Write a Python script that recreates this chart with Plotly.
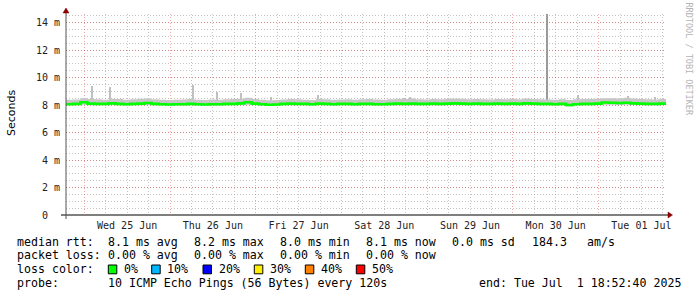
import plotly.graph_objects as go
import pandas as pd

# ---------------- data ----------------
start_time = "2025-06-24 18:52:40"
end_time = "2025-07-01 18:52:40"

# median rtt (ms), sampled every 2 hours from start to end
median_ms = [
    8.06, 8.08, 8.20, 8.10, 8.08, 8.08, 8.12, 8.08, 8.06, 8.08,
    8.10, 8.14, 8.08, 8.06, 8.04, 8.06, 8.06, 8.08, 8.06, 8.04,
    8.06, 8.06, 8.08, 8.08, 8.12, 8.20, 8.10, 8.06, 8.02, 8.04,
    8.08, 8.10, 8.08, 8.08, 8.06, 8.10, 8.08, 8.06, 8.08, 8.08,
    8.06, 8.08, 8.08, 8.06, 8.06, 8.08, 8.10, 8.08, 8.10, 8.08,
    8.08, 8.10, 8.08, 8.10, 8.12, 8.10, 8.08, 8.10, 8.08, 8.08,
    8.10, 8.08, 8.10, 8.08, 8.12, 8.10, 8.08, 8.08, 8.06, 8.08,
    8.00, 8.06, 8.08, 8.08, 8.10, 8.18, 8.16, 8.14, 8.16, 8.12,
    8.10, 8.08, 8.08, 8.10, 8.10,
]
# upper edge of the ping "smoke" (ms)
smoke_max_ms = [
    8.38, 8.40, 8.50, 8.43, 8.41, 8.38, 8.46, 8.43, 8.38, 8.42,
    8.46, 8.48, 8.41, 8.38, 8.36, 8.38, 8.40, 8.43, 8.38, 8.36,
    8.40, 8.38, 8.41, 8.43, 8.46, 8.53, 8.44, 8.38, 8.34, 8.36,
    8.40, 8.44, 8.41, 8.38, 8.36, 8.46, 8.42, 8.38, 8.40, 8.42,
    8.38, 8.41, 8.44, 8.40, 8.38, 8.42, 8.46, 8.43, 8.48, 8.42,
    8.40, 8.44, 8.41, 8.46, 8.48, 8.45, 8.41, 8.44, 8.41, 8.40,
    8.44, 8.41, 8.46, 8.42, 8.48, 8.44, 8.41, 8.40, 8.38, 8.41,
    8.36, 8.42, 8.44, 8.43, 8.46, 8.50, 8.50, 8.48, 8.53, 8.48,
    8.44, 8.41, 8.40, 8.43, 8.43,
]
# lower edge of the smoke (ms)
smoke_min_ms = [
    7.98, 7.99, 8.02, 7.99, 7.98, 7.98, 8.00, 7.98, 7.97, 7.98,
    7.99, 8.00, 7.98, 7.97, 7.96, 7.97, 7.97, 7.98, 7.97, 7.96,
    7.97, 7.97, 7.98, 7.98, 8.00, 8.02, 7.99, 7.97, 7.94, 7.96,
    7.98, 7.99, 7.98, 7.98, 7.97, 7.99, 7.98, 7.97, 7.98, 7.98,
    7.97, 7.98, 7.98, 7.97, 7.97, 7.98, 7.99, 7.98, 7.99, 7.98,
    7.98, 7.99, 7.98, 7.99, 8.00, 7.99, 7.98, 7.99, 7.98, 7.98,
    7.99, 7.98, 7.99, 7.98, 8.00, 7.99, 7.98, 7.98, 7.97, 7.98,
    7.90, 7.97, 7.98, 7.98, 7.99, 8.02, 8.01, 8.00, 8.01, 8.00,
    7.99, 7.98, 7.98, 7.99, 7.99,
]

# isolated outlier pings (ms)
spike_times = [
    "2025-06-25 02:14", "2025-06-25 07:07", "2025-06-26 06:28", "2025-06-26 13:16",
    "2025-06-26 19:46", "2025-06-27 04:16", "2025-06-27 17:22", "2025-06-28 17:28",
    "2025-06-28 19:10", "2025-06-30 09:28", "2025-06-30 18:16", "2025-07-01 08:16",
    "2025-07-01 15:42",
]
spike_ms = [9.38, 9.31, 9.45, 8.92, 8.87, 8.58, 8.73, 8.49, 8.58, 14.6, 8.70, 8.63, 8.58]
spike_base_ms = [8.1] * len(spike_ms)

ytick_vals = [0, 2, 4, 6, 8, 10, 12, 14]
ytick_text = ["0\u00a0\u00a0", "2 m", "4 m", "6 m", "8 m", "10 m", "12 m", "14 m"]

rtt_items = ["8.1 ms avg", "8.2 ms max", "8.0 ms min", "8.1 ms now", "0.0 ms sd", "184.3", "am/s"]
loss_items = ["0.00 % avg", "0.00 % max", "0.00 % min", "0.00 % now"]
loss_labels = ["0%", "10%", "20%", "30%", "40%", "50%"]
loss_colors = ["#00ff00", "#00b8ff", "#0000ff", "#ffee00", "#ff8000", "#ff0000"]
probe_text = "10 ICMP Echo Pings (56 Bytes) every 120s"
end_text = "end: Tue Jul  1 18:52:40 2025"

# ---------------- layout geometry (pixels) ----------------
W, H = 697, 297
PL, PR, PT, PB = 66, 666, 14, 215


def px(p):
    return (p - PL) / (PR - PL)


def py(p):
    return (PB - p) / (PB - PT)


times = pd.date_range(start_time, periods=len(median_ms), freq="2h")

MONO = "DejaVu Sans Mono"
fig = go.Figure()

fig.add_trace(go.Scatter(x=times, y=smoke_min_ms, mode="lines", line=dict(width=0, shape="hv"),
                         hoverinfo="skip", showlegend=False))
fig.add_trace(go.Scatter(x=times, y=smoke_max_ms, mode="lines", line=dict(width=0, shape="hv"),
                         fill="tonexty", fillcolor="#c6c6c6", hoverinfo="skip", showlegend=False))
fig.add_trace(go.Bar(x=pd.to_datetime(spike_times),
                     y=[v - b for v, b in zip(spike_ms, spike_base_ms)],
                     base=spike_base_ms, width=1100000,
                     marker=dict(color=["#9a9a9a" if v > 12 else "#c0c0c0" for v in spike_ms], line=dict(width=0)),
                     showlegend=False, hoverinfo="skip"))
fig.add_trace(go.Scatter(x=times, y=median_ms, mode="lines", line=dict(color="#00ff00", width=2.6, shape="hv"),
                         showlegend=False))

major_grid = "rgba(220,60,60,0.45)"
minor_grid = "rgba(150,150,150,0.55)"
dots = "1px,2px"

fig.update_layout(
    width=W, height=H,
    margin=dict(l=PL, r=W - PR, t=PT, b=H - PB, pad=0),
    paper_bgcolor="white", plot_bgcolor="white",
    showlegend=False, bargap=0,
    xaxis=dict(type="date", range=[start_time, end_time], tick0="2025-06-25", dtick=86400000,
               tickformat="%a %d %b", ticklabelmode="period", showgrid=True, gridcolor=major_grid,
               griddash=dots, gridwidth=1, zeroline=False, showline=False, ticks="",
               ticklabelstandoff=3,
               tickfont=dict(family=MONO, size=10, color="#222"),
               minor=dict(dtick=21600000, showgrid=True, gridcolor=minor_grid, griddash=dots, gridwidth=1)),
    yaxis=dict(range=[0, (PB - PT) / 13.75], tickvals=ytick_vals, ticktext=ytick_text, showgrid=True,
               gridcolor=major_grid, griddash=dots, gridwidth=1, zeroline=False, showline=False, ticks="",
               ticklabelstandoff=5,
               tickfont=dict(family=MONO, size=10, color="#222"),
               minor=dict(dtick=0.5, showgrid=True, gridcolor=minor_grid, griddash=dots, gridwidth=1)),
)

shapes = []
# axis lines + arrows
shapes.append(dict(type="line", xref="paper", yref="paper", x0=px(61), x1=px(669), y0=0, y1=0,
                   line=dict(color="#000", width=1)))
shapes.append(dict(type="path", xref="paper", yref="paper",
                   path=f"M {px(668)},{py(212)} L {px(672.5)},{py(215)} L {px(668)},{py(218)} Z",
                   fillcolor="#8b0000", line=dict(color="#8b0000", width=0.5)))
shapes.append(dict(type="line", xref="paper", yref="paper", x0=0, x1=0, y0=py(219), y1=py(12),
                   line=dict(color="#555", width=1)))
shapes.append(dict(type="path", xref="paper", yref="paper",
                   path=f"M {px(63)},{py(13)} L {px(66)},{py(8)} L {px(69)},{py(13)} Z",
                   fillcolor="#8b0000", line=dict(color="#8b0000", width=0.5)))

annotations = []


def txt(x, y, s, size=11.6, color="#000", family=MONO, **kw):
    d = dict(xref="paper", yref="paper", x=px(x), y=py(y), text=s, showarrow=False,
             xanchor="left", yanchor="middle", font=dict(family=family, size=size, color=color),
             borderpad=0)
    d.update(kw)
    annotations.append(d)


row_y = [241.5, 255.3, 269.3, 283.3]
col_x = [107.3, 193.3, 279.0, 365.0, 451.0, 530.7, 586.0]
txt(16, row_y[0], "median rtt:")
for s, x in zip(rtt_items, col_x):
    txt(x, row_y[0], s)
txt(16, row_y[1], "packet loss:")
for s, x in zip(loss_items, col_x):
    txt(x, row_y[1], s)
txt(16, row_y[2], "loss color:")
box_x = [108.3, 151.7, 203.0, 254.3, 305.3, 356.3]
for lab, col, bx in zip(loss_labels, loss_colors, box_x):
    shapes.append(dict(type="rect", xref="paper", yref="paper", x0=px(bx), x1=px(bx + 8.5),
                       y0=py(273.8), y1=py(265.0), fillcolor=col, line=dict(color="#000", width=1)))
    txt(bx + 14.5, row_y[2], lab)
txt(16, row_y[3], "probe:")
txt(107.3, row_y[3], probe_text)
txt(478.3, row_y[3], end_text)

annotations.append(dict(xref="paper", yref="paper", x=px(11), y=py(113), text="Seconds", showarrow=False,
                        textangle=-90, xanchor="center", yanchor="middle",
                        font=dict(family="DejaVu Sans", size=11, color="#000")))
annotations.append(dict(xref="paper", yref="paper", x=px(688.5), y=py(59), text="RRDTOOL / TOBI OETIKER",
                        showarrow=False, textangle=90, xanchor="center", yanchor="middle",
                        font=dict(family=MONO, size=8.5, color="#b4b4b4")))

fig.update_layout(shapes=shapes, annotations=annotations)
fig.write_html("out.html")
